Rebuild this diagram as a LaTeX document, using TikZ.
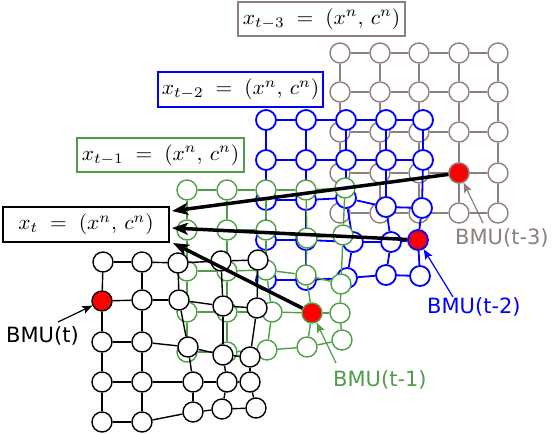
\documentclass[tikz,border=0pt]{standalone}
\usepackage{graphicx}
\usepackage{fontspec}
\newfontfamily\lblfont{DejaVu Sans}
\usetikzlibrary{arrows.meta}
\definecolor{gr}{RGB}{141,127,124}
\definecolor{gn}{RGB}{77,158,70}
\definecolor{bl}{RGB}{0,0,255}
\newcommand{\inputtext}[1]{\scalebox{2.15}[2.1]{$#1 \mskip5mu = \mskip5mu (x^n,\, c^n)$}}
\begin{document}
\begin{tikzpicture}[x=1pt,y=-1pt,
  unit/.style={circle,draw,fill=white,minimum size=20pt,inner sep=0pt,line width=1.4pt},
  link/.style={line width=1.4pt},
  labelbox/.style={draw,line width=1.5pt,inner sep=0pt,minimum height=34pt},
  bigarrow/.style={-{Stealth[length=16pt,width=12pt,inset=4pt]},line width=3.5pt},
  tag/.style={font=\lblfont\fontsize{21}{24}\selectfont,anchor=base west,inner sep=0pt},
  tagarrow/.style={-{Stealth[length=10pt,width=8pt,inset=2pt]},line width=1.2pt}]
\useasboundingbox (0,0) rectangle (555,435);

% ---- gray map (t-3)
\foreach \r/\y in {1/53,2/92,3/132,4/173,5/213}
  \foreach \c/\x in {1/340,2/380,3/419,4/459,5/498}
    \node[unit,draw=gr] (g\r\c) at (\x,\y) {};
\node[unit,draw=gr,fill=red] (g44) at (459,173) {};
\foreach \r in {1,...,5}
  \foreach \c/\d in {1/2,2/3,3/4,4/5}{
    \draw[link,gr] (g\r\c) -- (g\r\d);
    \draw[link,gr] (g\c\r) -- (g\d\r);}

% ---- blue map (t-2)
\foreach \r/\c/\x/\y in {
  1/1/266/120,1/2/306/120,1/3/346/120,1/4/386/120,1/5/423/120,
  2/1/266/160,2/2/306/160,2/3/346/160,2/4/386/160,2/5/423/160,
  3/1/266/200,3/2/306/200,3/3/346/198,3/4/386/207,3/5/422/208,
  4/1/266/240,4/2/306/240,4/3/353/242,4/4/391/242,
  5/1/266/280,5/2/306/280,5/3/347/278,5/4/386/275,5/5/420/276}
  \node[unit,draw=bl,line width=1.8pt] (b\r\c) at (\x,\y) {};
\node[unit,draw=bl,line width=1.8pt,fill=red] (b45) at (418,240) {};
\foreach \r in {1,...,5}
  \foreach \c/\d in {1/2,2/3,3/4,4/5}{
    \draw[link,bl,line width=1.8pt] (b\r\c) -- (b\r\d);
    \draw[link,bl,line width=1.8pt] (b\c\r) -- (b\d\r);}

% ---- green map (t-1)
\foreach \r/\c/\x/\y in {
  1/1/187/190,1/2/227/190,1/3/266/190,1/4/306/190,1/5/345/188,
  2/1/187/230,2/2/227/230,2/3/266/230,2/4/307/238,2/5/343/235,
  3/1/187/271,3/2/227/271,3/3/266/270,3/4/306/275,3/5/341/284,
  4/1/187/312,4/2/227/312,4/3/272/312,4/5/340/313,
  5/1/187/352,5/2/227/352,5/3/267/350,5/4/307/347,5/5/342/340}
  \node[unit,draw=gn] (n\r\c) at (\x,\y) {};
\node[unit,draw=gn,fill=red] (n44) at (312,313) {};
\foreach \r in {1,...,5}
  \foreach \c/\d in {1/2,2/3,3/4,4/5}{
    \draw[link,gn] (n\r\c) -- (n\r\d);
    \draw[link,gn] (n\c\r) -- (n\d\r);}

% ---- black map (t)
\foreach \r/\c/\x/\y in {
  1/1/103/262,1/2/142/262,1/3/178/263,1/4/221/261,1/5/258/260,
  2/2/142/300,2/3/179/300,2/4/223/306,2/5/257/308,
  3/1/102/342,3/2/142/342,3/3/188/347,3/4/223/355,3/5/250/357,
  4/1/102/382,4/2/142/382,4/3/193/382,4/4/227/382,4/5/250/382,
  5/1/102/422,5/2/142/422,5/3/193/412,5/4/222/409,5/5/256/408}
  \node[unit,draw=black] (k\r\c) at (\x,\y) {};
\node[unit,draw=black,fill=red] (k21) at (102,301) {};
\foreach \r in {1,...,5}
  \foreach \c/\d in {1/2,2/3,3/4,4/5}{
    \draw[link,black] (k\r\c) -- (k\r\d);
    \draw[link,black] (k\c\r) -- (k\d\r);}

% ---- input boxes
\node[labelbox,draw=gr,minimum width=167pt] (xt3) at (321.5,19) {\inputtext{x_{t-3}}};
\node[labelbox,draw=bl,minimum width=165pt,minimum height=35pt] (xt2) at (240.5,89.5) {\inputtext{x_{t-2}}};
\node[labelbox,draw=gn,minimum width=167pt] (xt1) at (160.5,155) {\inputtext{x_{t-1}}};
\node[labelbox,draw=black,minimum width=166pt,minimum height=35pt] (xt) at (86,224.5) {\inputtext{x_{t}}};

% ---- thick arrows to current input
\coordinate (p1) at (172,211);
\coordinate (p2) at (172,228);
\coordinate (p3) at (173,243);
\draw[bigarrow] (g44) -- (p1);
\draw[bigarrow] (b45) -- (p2);
\draw[bigarrow] (n44) -- (p3);

% ---- BMU labels
\node[tag,black] (lt) at (6,343) {BMU(t)};
\node[tag,gn] (lt1) at (333,387) {BMU(t-1)};
\node[tag,bl] (lt2) at (427,314) {BMU(t-2)};
\node[tag,gr] (lt3) at (455,245) {BMU(t-3)};
\coordinate (s0) at (58,322);
\coordinate (s1) at (336,363);
\coordinate (s2) at (453,297);
\coordinate (s3) at (483,223);
\draw[tagarrow,black] (s0) -- (k21);
\draw[tagarrow,gn] (s1) -- (n44);
\draw[tagarrow,bl] (s2) -- (b45);
\draw[tagarrow,gr] (s3) -- (g44);
\end{tikzpicture}
\end{document}
